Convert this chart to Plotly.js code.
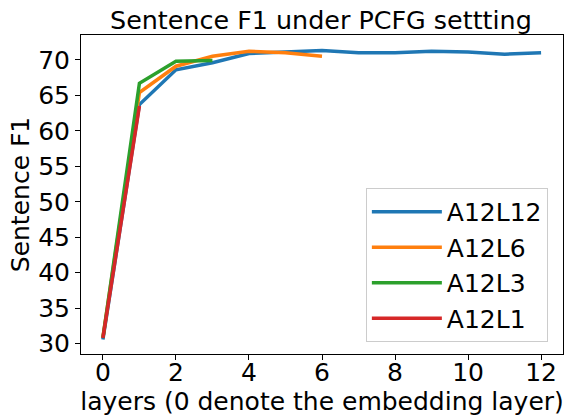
<!DOCTYPE html>
<html>
<head>
<meta charset="utf-8">
<script src="https://cdn.plot.ly/plotly-3.0.1.min.js"></script>
<style>html,body{margin:0;padding:0;background:#fff;}#chart{width:567px;height:417px;}</style>
</head>
<body>
<div id="chart"></div>
<script>
const layersA12L12 = [0,1,2,3,4,5,6,7,8,9,10,11,12];
const f1A12L12 = [30.6, 63.7, 68.6, 69.6, 70.9, 71.1, 71.3, 71.0, 71.0, 71.2, 71.1, 70.8, 71.0];
const layersA12L6 = [0,1,2,3,4,5,6];
const f1A12L6 = [30.9, 65.4, 69.1, 70.5, 71.2, 71.0, 70.5];
const layersA12L3 = [0,1,2,3];
const f1A12L3 = [30.8, 66.7, 69.8, 69.9];
const layersA12L1 = [0,1];
const f1A12L1 = [30.8, 63.5];
const seriesNames = ["A12L12","A12L6","A12L3","A12L1"];
const seriesColors = ["#1f77b4","#ff7f0e","#2ca02c","#d62728"];
const xs = [layersA12L12, layersA12L6, layersA12L3, layersA12L1];
const ys = [f1A12L12, f1A12L6, f1A12L3, f1A12L1];

const font = "DejaVu Sans, sans-serif";
const fs = 25;
const traces = seriesNames.map((n,i)=>({
  x: xs[i], y: ys[i], name: n, type: "scatter", mode: "lines",
  line: {color: seriesColors[i], width: 3.5},
  legendgroup: n
}));

const layout = {
  width: 567, height: 417,
  margin: {l: 81, r: 4, t: 35, b: 63},
  paper_bgcolor: "#fff", plot_bgcolor: "#fff",
  font: {family: font, size: fs, color: "#000"},
  title: {text: "Sentence F1 under PCFG settting", font: {family: font, size: 25.4, color: "#000"},
          x: 0.566, xanchor: "center", y: 0.952, yanchor: "middle"},
  xaxis: {
    range: [-0.6, 12.6], tickvals: [0,2,4,6,8,10,12], ticks: "outside", ticklen: 5, tickwidth: 1,
    tickcolor: "#000", showgrid: false, zeroline: false, showline: true, linecolor: "#000", linewidth: 1,
    mirror: true, tickfont: {family: font, size: fs, color: "#000"},
    ticklabelposition: "outside", ticklabelstandoff: -9,
    title: {text: "layers (0 denote the embedding layer)", font: {family: font, size: fs, color: "#000"}, standoff: 0}
  },
  yaxis: {
    range: [28.55, 73.5], tickvals: [30,35,40,45,50,55,60,65,70], ticks: "outside", ticklen: 5, tickwidth: 1,
    tickcolor: "#000", showgrid: false, zeroline: false, showline: true, linecolor: "#000", linewidth: 1,
    mirror: true, tickfont: {family: font, size: fs, color: "#000"},
    title: {text: "Sentence F1", font: {family: font, size: fs, color: "#000"}, standoff: 1}
  },
  showlegend: true,
  legend: {
    x: 0.591, y: 0.038, xanchor: "left", yanchor: "bottom",
    bgcolor: "rgba(255,255,255,0.8)", bordercolor: "#cccccc", borderwidth: 1,
    font: {family: font, size: fs, color: "#000"}, tracegroupgap: 5, traceorder: "normal",
    itemwidth: 70
  }
};
Plotly.newPlot("chart", traces, layout, {staticPlot: true, displayModeBar: false});
</script>
</body>
</html>
